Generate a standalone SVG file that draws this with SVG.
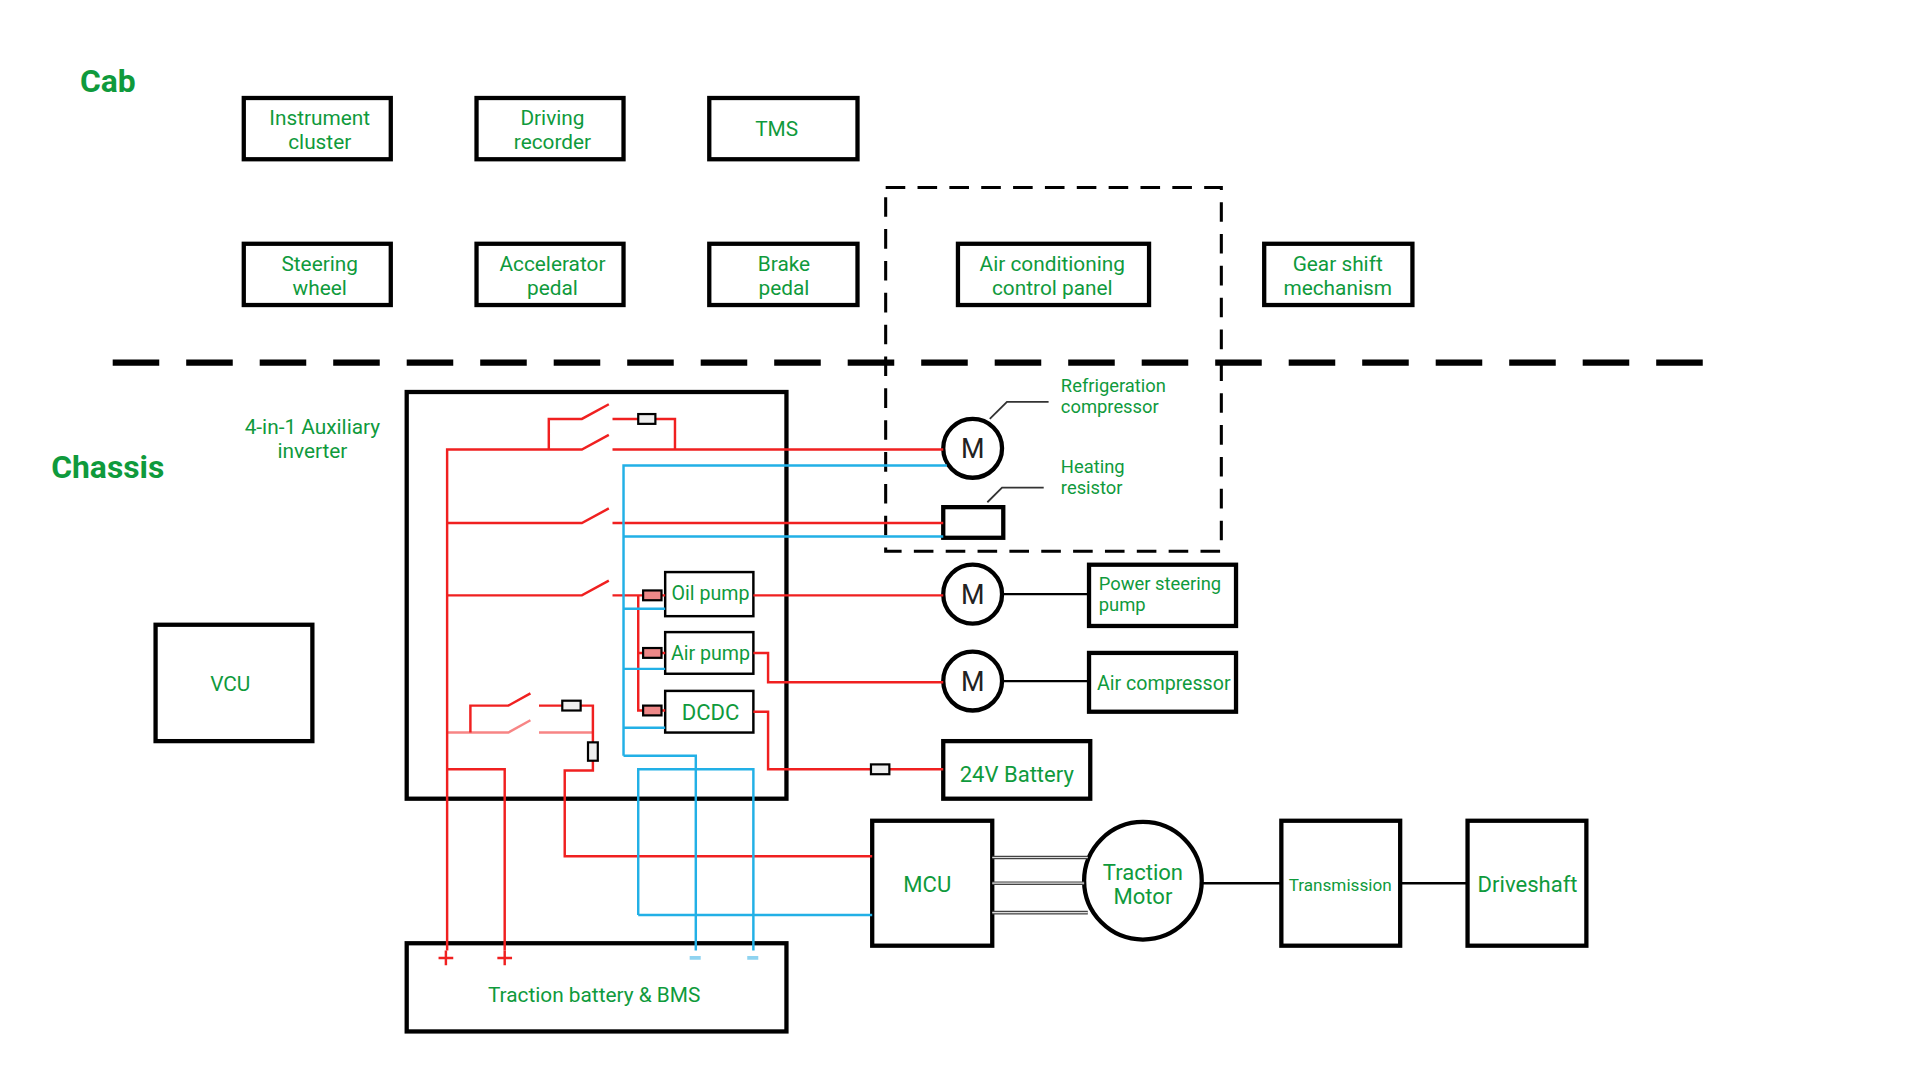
<svg xmlns="http://www.w3.org/2000/svg" width="1920" height="1080" viewBox="0 0 1920 1080">
<style>
text{font-family:Roboto,"Liberation Sans",sans-serif;fill:#0f9a3c;font-size:17px;text-anchor:middle}
.b{fill:none;stroke:#000;stroke-width:3.5}
.t{fill:none;stroke:#000;stroke-width:2}
.r{fill:none;stroke:#f02020;stroke-width:2}
.u{fill:none;stroke:#22b0e6;stroke-width:2}
.f{fill:#eee;stroke:#000;stroke-width:1.8}
.g{fill:none;stroke:#333;stroke-width:1.5}
.m{font-size:22px;fill:#222}
</style>
<rect width="1920" height="1080" fill="#fff"/>
<g transform="scale(1.225)">
<text x="88" y="75" style="font-size:26px;font-weight:bold">Cab</text>
<text x="88" y="390" style="font-size:26px;font-weight:bold">Chassis</text>
<line x1="92" y1="296" x2="1402" y2="296" stroke="#000" stroke-width="5" stroke-dasharray="38 22"/>
<rect x="723" y="153" width="274" height="297" fill="none" stroke="#000" stroke-width="2.5" stroke-dasharray="16 10"/>
<g id="instrument"><rect class="b" x="199" y="80" width="120" height="50"/><text x="261" y="102">Instrument</text><text x="261" y="122">cluster</text></g>
<g id="recorder"><rect class="b" x="389" y="80" width="120" height="50"/><text x="451" y="102">Driving</text><text x="451" y="122">recorder</text></g>
<g id="tms"><rect class="b" x="579" y="80" width="121" height="50"/><text x="634" y="111">TMS</text></g>
<g id="steering"><rect class="b" x="199" y="199" width="120" height="50"/><text x="261" y="221">Steering</text><text x="261" y="241">wheel</text></g>
<g id="accel"><rect class="b" x="389" y="199" width="120" height="50"/><text x="451" y="221">Accelerator</text><text x="451" y="241">pedal</text></g>
<g id="brake"><rect class="b" x="579" y="199" width="121" height="50"/><text x="640" y="221">Brake</text><text x="640" y="241">pedal</text></g>
<g id="ac"><rect class="b" x="782" y="199" width="156" height="50"/><text x="859" y="221">Air conditioning</text><text x="859" y="241">control panel</text></g>
<g id="gear"><rect class="b" x="1032" y="199" width="121" height="50"/><text x="1092" y="221">Gear shift</text><text x="1092" y="241">mechanism</text></g>
<g id="vcu"><rect class="b" x="127" y="510" width="128" height="95"/><text x="188" y="564">VCU</text></g>
<g id="inverter"><rect class="b" x="332" y="320" width="310" height="332"/><text x="255" y="354">4-in-1 Auxiliary</text><text x="255" y="374">inverter</text></g>
<g id="battery"><rect class="b" x="332" y="770" width="310" height="72"/><text x="485" y="818">Traction battery &amp; BMS</text>
<path d="M358 782h12M364 776v12M406 782h12M412 776v12" stroke="#f02020" stroke-width="2"/>
<path d="M563 782h9M610 782h9" stroke="#8fd3f0" stroke-width="3"/></g>
<g id="oilpump"><rect class="t" x="543" y="467" width="72" height="36"/><text x="580" y="490" style="font-size:16px">Oil pump</text></g>
<g id="airpump"><rect class="t" x="543" y="516" width="72" height="34"/><text x="580" y="539" style="font-size:16px">Air pump</text></g>
<g id="dcdc"><rect class="t" x="543" y="564" width="72" height="34"/><text x="580" y="588" style="font-size:18px">DCDC</text></g>
<g id="b24"><rect class="b" x="770" y="605" width="120" height="47"/><text x="830" y="638" style="font-size:18px">24V Battery</text></g>
<g id="mref"><circle class="b" cx="794" cy="366" r="24"/><text class="m" x="794" y="374">M</text><text x="866" y="320" style="text-anchor:start;font-size:15px">Refrigeration</text><text x="866" y="337" style="text-anchor:start;font-size:15px">compressor</text></g>
<g id="heater"><rect class="b" x="770" y="414" width="49" height="25"/><text x="866" y="386" style="text-anchor:start;font-size:15px">Heating</text><text x="866" y="403" style="text-anchor:start;font-size:15px">resistor</text></g>
<g id="moil"><circle class="b" cx="794" cy="485" r="24"/><text class="m" x="794" y="493">M</text></g>
<g id="mair"><circle class="b" cx="794" cy="556" r="24"/><text class="m" x="794" y="564">M</text></g>
<g id="psp"><rect class="b" x="889" y="461" width="120" height="50"/><text x="897" y="482" style="text-anchor:start;font-size:15px">Power steering</text><text x="897" y="499" style="text-anchor:start;font-size:15px">pump</text></g>
<g id="aircomp"><rect class="b" x="889" y="533" width="120" height="48"/><text x="950" y="563" style="font-size:16px">Air compressor</text></g>
<g id="mcu"><rect class="b" x="712" y="670" width="98" height="102"/><text x="757" y="728" style="font-size:18px">MCU</text></g>
<g id="motor"><circle class="b" cx="933" cy="719" r="48"/><text x="933" y="718" style="font-size:18px">Traction</text><text x="933" y="738" style="font-size:18px">Motor</text></g>
<g id="trans"><rect class="b" x="1046" y="670" width="97" height="102"/><text x="1094" y="727" style="font-size:14px">Transmission</text></g>
<g id="drive"><rect class="b" x="1198" y="670" width="97" height="102"/><text x="1247" y="728" style="font-size:18px">Driveshaft</text></g>
<g id="connectors">
<path class="g" d="M808 342L822 328H856M806 410L818 398H852"/>
<path class="t" d="M818 485H889M818 556H889M981 721H1046M1143 721H1198"/>
<path d="M810 700H888M810 721H885M810 745H888" stroke="#444" stroke-width="3" fill="none"/>
<path d="M810 700H888M810 721H885M810 745H888" stroke="#ddd" stroke-width="1" fill="none"/>
<path class="r" d="M365 776V367H475L497 355M500 367H770M448 367V342H475L497 330M500 342H521M535 342H551V367"/>
<path class="r" d="M365 427H475L497 415M500 427H770M365 486H475L497 474M500 486H543M521 486V580H525M521 533H525M540 486H543M540 533H543M540 580H543"/>
<path class="r" d="M615 486H770M615 533H627V557H770M615 581H627V628H770"/>
<path class="r" d="M365 598H415L433 588M440 598H484" opacity="0.55"/>
<path class="r" d="M384 598V576H415L433 566M440 576H459M474 576H484V606M484 621V629H461V699H712M365 628H412V776"/>
<path class="u" d="M509 617V380H773M509 438H770M509 497H543M509 546H543M509 594H543M509 617H568V776M521 747V628H615V776M521 747H712"/>
<rect class="f" x="521" y="338" width="14" height="8"/>
<rect class="f" x="459" y="572" width="15" height="8"/>
<rect class="f" x="480" y="606" width="8" height="15"/>
<rect class="f" x="711" y="624" width="15" height="8"/>
<rect class="f" x="525" y="482" width="15" height="8" style="fill:#e88"/>
<rect class="f" x="525" y="529" width="15" height="8" style="fill:#e88"/>
<rect class="f" x="525" y="576" width="15" height="8" style="fill:#e88"/>
</g>
</g>
</svg>
